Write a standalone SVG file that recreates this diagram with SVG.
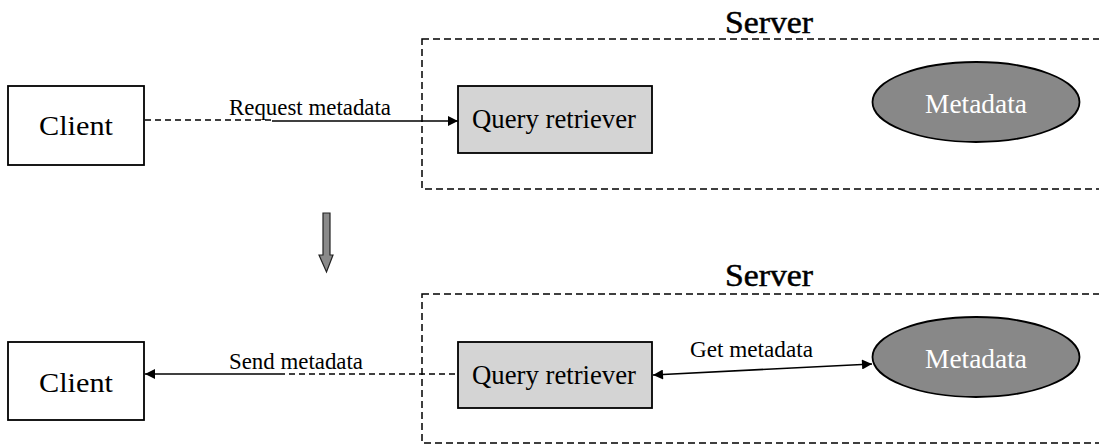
<svg xmlns="http://www.w3.org/2000/svg" width="1099" height="448" viewBox="0 0 1099 448">
  <style>
    text { font-family: "Liberation Serif", "Times New Roman", serif; fill: #000; }
    .box { fill: #fff; stroke: #000; stroke-width: 1.8; }
    .qr { fill: #d4d4d4; stroke: #000; stroke-width: 1.8; }
    .meta { fill: #888; stroke: #000; stroke-width: 1.8; }
    .server { fill: none; stroke: #000; stroke-width: 1.5; stroke-dasharray: 7 4; }
    .node-text { font-size: 28px; }
    .meta-text { font-size: 27px; fill: #fff; }
    .title { font-size: 31px; stroke: #000; stroke-width: 0.5; }
    .label { font-size: 23px; }
    .solid { stroke: #000; stroke-width: 1.6; fill: none; }
    .dash { stroke: #000; stroke-width: 1.6; fill: none; stroke-dasharray: 6 4; }
  </style>
  <defs>
    <marker id="head" viewBox="0 0 10 10" refX="10" refY="5" markerWidth="15" markerHeight="10" markerUnits="userSpaceOnUse" orient="auto-start-reverse">
      <path d="M0,0 L10,5 L0,10 z" fill="#000"/>
    </marker>
  </defs>

  <rect width="1099" height="448" fill="#fff"/>

  <!-- Upper step: client asks the server -->
  <g id="server-top">
    <rect class="server" x="422" y="39" width="700" height="150"/>
    <text class="title" x="725" y="33" textLength="88" lengthAdjust="spacingAndGlyphs">Server</text>
  </g>
  <g id="client-top">
    <rect class="box" x="8" y="86" width="136" height="79"/>
    <text class="node-text" x="39" y="135" textLength="74" lengthAdjust="spacingAndGlyphs">Client</text>
  </g>
  <g id="query-top">
    <rect class="qr" x="458" y="86" width="194" height="67"/>
    <text class="node-text" x="472" y="128" textLength="164" lengthAdjust="spacingAndGlyphs">Query retriever</text>
  </g>
  <g id="metadata-top">
    <ellipse class="meta" cx="976" cy="102" rx="103.5" ry="40"/>
    <text class="meta-text" x="976" y="113" text-anchor="middle" textLength="102" lengthAdjust="spacingAndGlyphs">Metadata</text>
  </g>

  <!-- Transition between the two steps -->
  <g id="step-arrow">
    <path d="M323,213 H330 V255 H333 L326.5,272 L319,255 H323 Z" fill="#8a8a8a" stroke="#222" stroke-width="1.2"/>
  </g>

  <!-- Lower step: server answers the client -->
  <g id="server-bottom">
    <rect class="server" x="422" y="294" width="700" height="149"/>
    <text class="title" x="725" y="286" textLength="88" lengthAdjust="spacingAndGlyphs">Server</text>
  </g>
  <g id="client-bottom">
    <rect class="box" x="8" y="342" width="136" height="78"/>
    <text class="node-text" x="39" y="392" textLength="74" lengthAdjust="spacingAndGlyphs">Client</text>
  </g>
  <g id="query-bottom">
    <rect class="qr" x="458" y="342" width="194" height="66"/>
    <text class="node-text" x="472" y="384" textLength="164" lengthAdjust="spacingAndGlyphs">Query retriever</text>
  </g>
  <g id="metadata-bottom">
    <ellipse class="meta" cx="976" cy="357" rx="103.5" ry="40"/>
    <text class="meta-text" x="976" y="368" text-anchor="middle" textLength="102" lengthAdjust="spacingAndGlyphs">Metadata</text>
  </g>

  <g id="connectors">
    <!-- Request metadata -->
    <line class="dash" x1="145" y1="120" x2="272" y2="120"/>
    <line class="solid" x1="272" y1="121" x2="458" y2="121" marker-end="url(#head)"/>
    <text class="label" x="229" y="115" textLength="162" lengthAdjust="spacingAndGlyphs">Request metadata</text>

    <!-- Send metadata -->
    <line class="solid" x1="279" y1="374" x2="145" y2="374" marker-end="url(#head)"/>
    <line class="dash" x1="279" y1="374" x2="458" y2="374"/>
    <text class="label" x="229" y="369" textLength="134" lengthAdjust="spacingAndGlyphs">Send metadata</text>

    <!-- Get metadata -->
    <line class="solid" x1="653" y1="375" x2="872" y2="364" marker-start="url(#head)" marker-end="url(#head)"/>
    <text class="label" x="690" y="357" textLength="123" lengthAdjust="spacingAndGlyphs">Get metadata</text>
  </g>
</svg>
